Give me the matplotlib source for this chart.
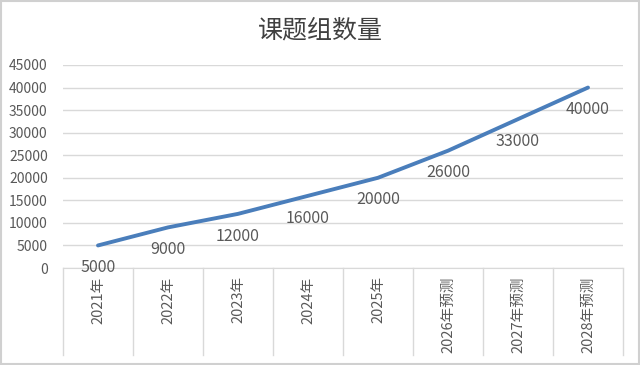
import matplotlib.pyplot as plt
from matplotlib.patches import Rectangle

plt.rcParams['font.family'] = ['Noto Sans CJK SC', 'DejaVu Sans']

# chart data
categories = ['2021年', '2022年', '2023年', '2024年', '2025年',
              '2026年预测', '2027年预测', '2028年预测']
values = [5000, 9000, 12000, 16000, 20000, 26000, 33000, 40000]
yticks = [0, 5000, 10000, 15000, 20000, 25000, 30000, 35000, 40000, 45000]

text_color = '#595959'
grid_color = '#d9d9d9'

fig = plt.figure(figsize=(6.4, 3.65), dpi=100)
ax = fig.add_axes([63 / 640, 1 - 268 / 365, 560 / 640, 203 / 365])

x = list(range(len(categories)))
ax.plot(x, values, color='#4a7ebb', linewidth=2.8, solid_capstyle='round')

# data labels below each point
for xi, v in zip(x, values):
    ax.annotate(str(v), (xi, v), xytext=(0, -16), textcoords='offset points',
                ha='center', va='center', fontsize=11.5, color=text_color)

ax.set_xlim(-0.5, len(categories) - 0.5)
ax.set_ylim(0, 45000)
ax.set_yticks(yticks)
ax.set_yticklabels([str(t) for t in yticks])
ax.yaxis.grid(True, color=grid_color, linewidth=1)
ax.set_axisbelow(True)

ax.set_xticks(x)
ax.set_xticklabels(categories, rotation=90, va='top', ha='center')
ax.tick_params(axis='x', length=0, pad=6, labelsize=10.5, labelcolor=text_color)
ax.tick_params(axis='y', length=0, pad=11, labelsize=10, labelcolor=text_color)

for s in ['top', 'right', 'left']:
    ax.spines[s].set_visible(False)
ax.spines['bottom'].set_color(grid_color)

# category divider lines under the axis
depth = -87 / 203
for b in range(len(categories) + 1):
    ax.plot([b - 0.5, b - 0.5], [0, depth], transform=ax.get_xaxis_transform(),
            color=grid_color, linewidth=1, clip_on=False)

fig.text(0.5, 1 - 30 / 365, '课题组数量', ha='center', va='center',
         fontsize=18, color='#404040')

# light frame round the chart
fig.patches.append(Rectangle((0.002, 0.003), 0.996, 0.994, transform=fig.transFigure,
                             fill=False, edgecolor='#d0d0d0', linewidth=1.5))

fig.savefig('out.png', dpi=100)
